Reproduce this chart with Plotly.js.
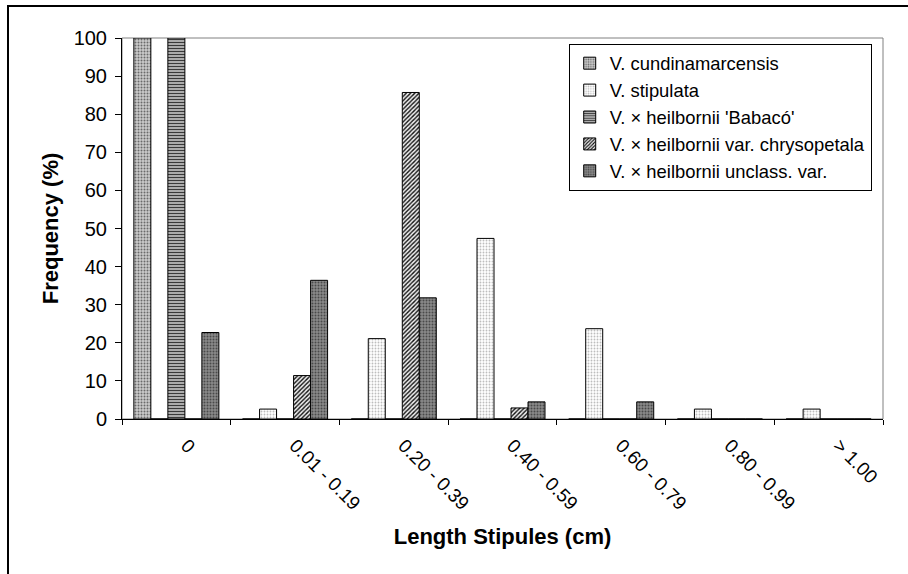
<!DOCTYPE html>
<html><head><meta charset="utf-8">
<script src="https://cdn.plot.ly/plotly-3.0.1.min.js"></script>
<style>html,body{margin:0;padding:0;background:#fff}#chart{width:908px;height:574px}</style>
</head><body><div id="chart"></div>
<script>
const categories = ["0", "0.01 - 0.19", "0.20 - 0.39", "0.40 - 0.59", "0.60 - 0.79", "0.80 - 0.99", "> 1.00"];
const seriesNames = ["V. cundinamarcensis", "V. stipulata", "V. × heilbornii 'Babacó'", "V. × heilbornii var. chrysopetala", "V. × heilbornii unclass. var."];
const cundinamarcensis = [100, 0, 0, 0, 0, 0, 0];
const stipulata = [0, 2.6, 21.1, 47.4, 23.7, 2.6, 2.6];
const babaco = [100, 0, 0, 0, 0, 0, 0];
const chrysopetala = [0, 11.4, 85.7, 2.9, 0, 0, 0];
const unclassVar = [22.7, 36.4, 31.8, 4.5, 4.5, 0, 0];
const yTicks = [0, 10, 20, 30, 40, 50, 60, 70, 80, 90, 100];

const FONT = "Liberation Sans, Arial, sans-serif";
const styles = [
  {shape: ".", fg: "#6a6a6a", bg: "#cccccc", size: 3, sol: 0.35},
  {shape: ".", fg: "#bdbdbd", bg: "#ffffff", size: 3, sol: 0.3},
  {shape: "-", fg: "#3a3a3a", bg: "#c4c4c4", size: 3, sol: 0.45},
  {shape: "/", fg: "#111111", bg: "#f0f0f0", size: 3, sol: 0.45},
  {shape: ".", fg: "#4a4a4a", bg: "#8a8a8a", size: 3, sol: 0.35}
];
const series = [cundinamarcensis, stipulata, babaco, chrysopetala, unclassVar];

const traces = series.map((vals, i) => ({
  type: "bar",
  name: seriesNames[i],
  x: categories,
  y: vals,
  marker: {
    color: styles[i].bg,
    line: {color: "#000000", width: 1},
    pattern: {shape: styles[i].shape, fgcolor: styles[i].fg, bgcolor: styles[i].bg,
              size: styles[i].size, solidity: styles[i].sol, fillmode: "replace"}
  },
  hoverinfo: "skip"
}));

const layout = {
  width: 908, height: 574,
  margin: {l: 122, r: 25, t: 38, b: 155},
  paper_bgcolor: "#ffffff", plot_bgcolor: "#ffffff",
  font: {family: FONT, color: "#000000", size: 18},
  barmode: "group", bargap: 0.218, bargroupgap: 0,
  showlegend: true,
  legend: {
    x: 0.587, y: 0.985, xanchor: "left", yanchor: "top",
    bgcolor: "#ffffff", bordercolor: "#000000", borderwidth: 1,
    font: {family: FONT, size: 18.4, color: "#000000"}
  },
  xaxis: {
    type: "category", categoryorder: "array", categoryarray: categories,
    tickson: "boundaries", ticks: "outside", ticklen: 5, tickcolor: "#000000", tickwidth: 1,
    showline: true, linecolor: "#000000", linewidth: 1, showgrid: false, zeroline: false,
    tickangle: 45, tickfont: {family: FONT, size: 19},
    ticklabelshift: 10, ticklabelstandoff: 7,
    title: {text: "Length Stipules (cm)", font: {family: FONT, size: 22, weight: "bold"}, standoff: 15}
  },
  yaxis: {
    range: [0, 100], tickvals: yTicks, ticktext: yTicks.map(String),
    ticks: "outside", ticklen: 6, tickcolor: "#000000", tickwidth: 1,
    showline: true, linecolor: "#000000", linewidth: 1, showgrid: false, zeroline: false,
    tickfont: {family: FONT, size: 20}, ticklabelstandoff: 4,
    title: {text: "Frequency (%)", font: {family: FONT, size: 22, weight: "bold"}, standoff: 8}
  },
  shapes: [
    {type: "rect", xref: "paper", yref: "paper", x0: 0, x1: 1, y0: 0, y1: 1,
     line: {color: "#808080", width: 1}, layer: "below"},
    {type: "rect", xref: "paper", yref: "paper", x0: -0.1498, x1: 1.05, y0: -0.45, y1: 1.084,
     line: {color: "#000000", width: 2}, layer: "below"}
  ]
};

Plotly.newPlot("chart", traces, layout, {displayModeBar: false, staticPlot: true});
</script></body></html>
